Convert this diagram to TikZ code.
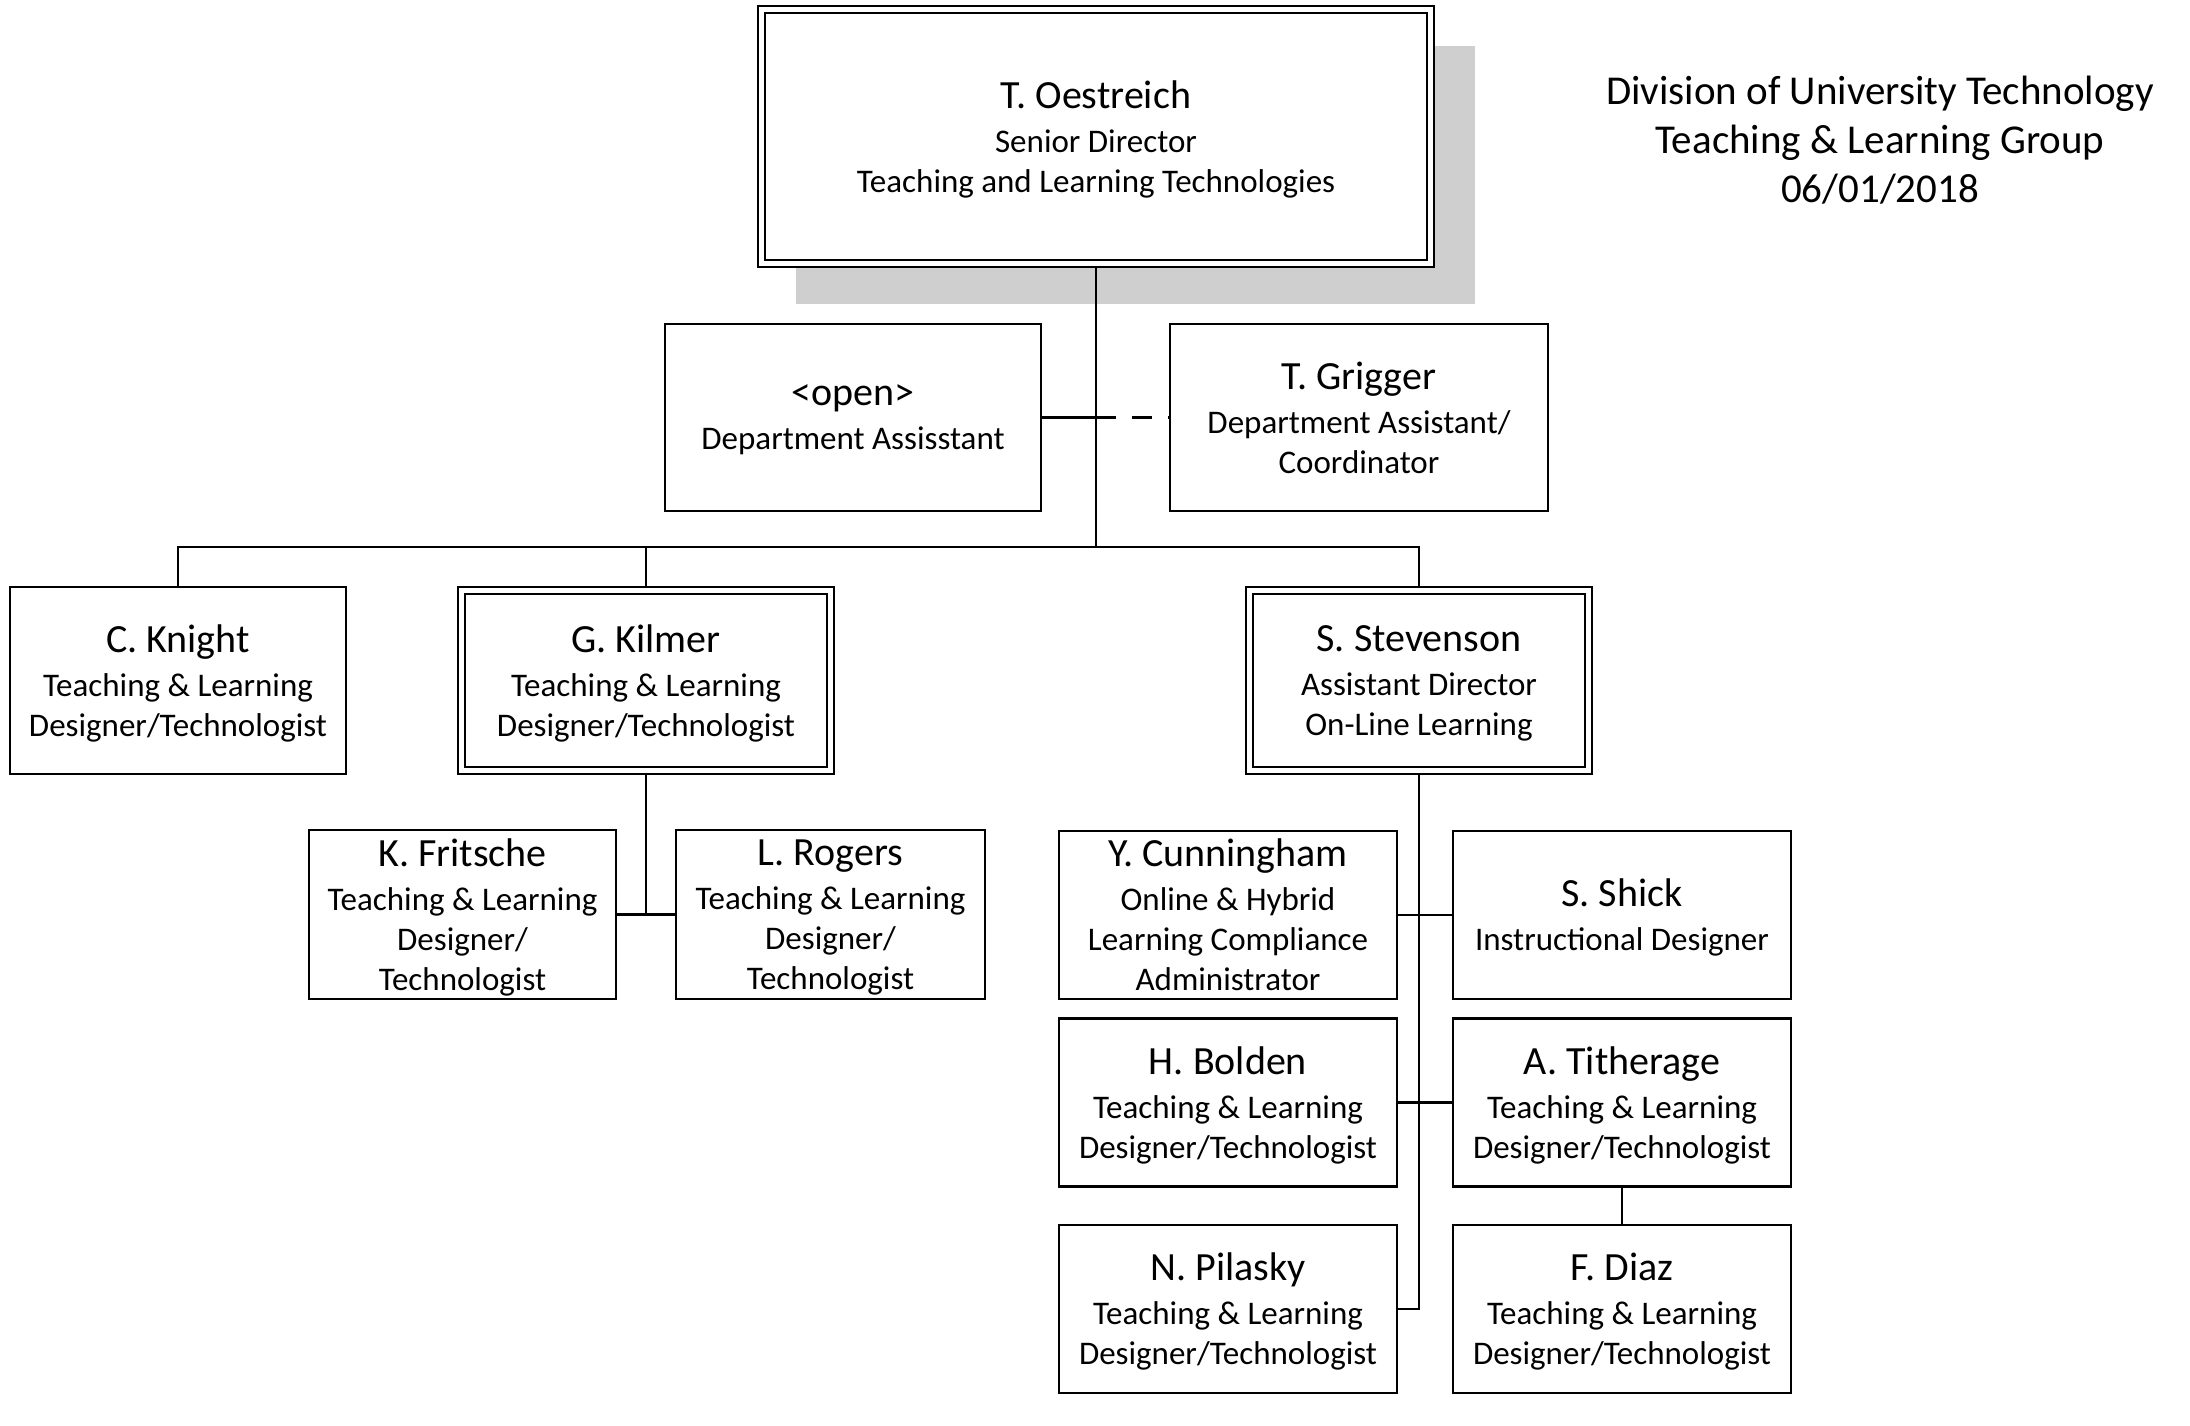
\documentclass[tikz,border=0pt]{standalone}
\usepackage{fontspec}
\setmainfont{Carlito}
\usetikzlibrary{shadows}
\newcommand{\namefont}{\fontsize{20}{20}\selectfont}
\newcommand{\subfont}{\fontsize{16.5}{20}\selectfont}
\newcommand{\shadowcolor}{black!19}

\begin{document}
\begin{tikzpicture}[x=0.5pt,y=-0.5pt,
  orgbox/.style={draw=black, fill=white, line width=1.3pt, inner sep=0pt, outer sep=0pt, align=center, font=\subfont, text depth=-2pt},
  leadbox/.style={orgbox, double, double distance=2.2pt, outer sep=1.75pt},
  link/.style={line width=1.3pt}]

\fill[white] (0,0) rectangle (2190,1425);

% top
\node[leadbox, minimum width=334.5pt, minimum height=127pt,
  drop shadow={shadow xshift=19.5pt, shadow yshift=-19pt, shadow scale=1.015, fill=\shadowcolor, opacity=1}]
  (oest) at (1096,136.5) {{\namefont T. Oestreich}\\[2pt] Senior Director\\ Teaching and Learning Technologies};

\node[font=\fontsize{20.5}{24.5}\selectfont, align=center] (title) at (1880,140) {Division of University Technology\\ Teaching \& Learning Group\\ 06/01/2018};

\node[orgbox, minimum width=188pt, minimum height=93.5pt] (open) at (853,417.5) {{\namefont <open>}\\[2pt] Department Assisstant};
\node[orgbox, minimum width=189pt, minimum height=93.5pt] (grigger) at (1359,417.5) {{\namefont T. Grigger}\\[2pt] Department Assistant/\\ Coordinator};

% second row
\node[orgbox, minimum width=168pt, minimum height=93.5pt] (knight) at (178,680.5) {{\namefont C. Knight}\\[2pt] Teaching \& Learning\\ Designer/Technologist};
\node[leadbox, minimum width=184.5pt, minimum height=90pt] (kilmer) at (646,680.5) {{\namefont G. Kilmer}\\[2pt] Teaching \& Learning\\ Designer/Technologist};
\node[leadbox, minimum width=169.5pt, minimum height=90pt] (stev) at (1419,680.5) {{\namefont S. Stevenson}\\[2pt] Assistant Director\\ On-Line Learning};

\node[orgbox, minimum width=153.5pt, minimum height=84.5pt] (fritsche) at (462.5,914.5) {{\namefont K. Fritsche}\\[2pt] Teaching \& Learning\\ Designer/\\ Technologist};
\node[orgbox, minimum width=154.5pt, minimum height=84.5pt] (rogers) at (830.5,914.5) {{\namefont L. Rogers}\\[2pt] Teaching \& Learning\\ Designer/\\ Technologist};

\node[orgbox, minimum width=169pt, minimum height=84pt] (cunn) at (1228,915) {{\namefont Y. Cunningham}\\[2pt] Online \& Hybrid\\ Learning Compliance\\ Administrator};
\node[orgbox, minimum width=169pt, minimum height=84pt] (shick) at (1622,915) {{\namefont S. Shick}\\[2pt] Instructional Designer};
\node[orgbox, minimum width=169pt, minimum height=84pt] (bolden) at (1228,1102.5) {{\namefont H. Bolden}\\[2pt] Teaching \& Learning\\ Designer/Technologist};
\node[orgbox, minimum width=169pt, minimum height=84pt] (tith) at (1622,1102.5) {{\namefont A. Titherage}\\[2pt] Teaching \& Learning\\ Designer/Technologist};
\node[orgbox, minimum width=169pt, minimum height=84pt] (pilasky) at (1228,1309) {{\namefont N. Pilasky}\\[2pt] Teaching \& Learning\\ Designer/Technologist};
\node[orgbox, minimum width=169pt, minimum height=84pt] (diaz) at (1622,1309) {{\namefont F. Diaz}\\[2pt] Teaching \& Learning\\ Designer/Technologist};

% lines
\coordinate (bus) at (1096,547);
\draw[link] (oest.south) -- (bus);
\draw[link] (knight.north) |- (bus) -| (stev.north);
\draw[link] (kilmer.north) -- (kilmer.north |- bus);
\draw[link] (open.east) -- (open.east -| bus);
\draw[link, dash pattern=on 10pt off 8pt] (open.east -| bus) -- (grigger.west);

\draw[link] (kilmer.south) |- (fritsche.east);
\draw[link] (kilmer.south) |- (rogers.west);

\draw[link] (stev.south) |- (pilasky.east);
\draw[link] (cunn.east) -- (shick.west);
\draw[link] (bolden.east) -- (tith.west);
\draw[link] (tith.south) -- (diaz.north);

\end{tikzpicture}
\end{document}
